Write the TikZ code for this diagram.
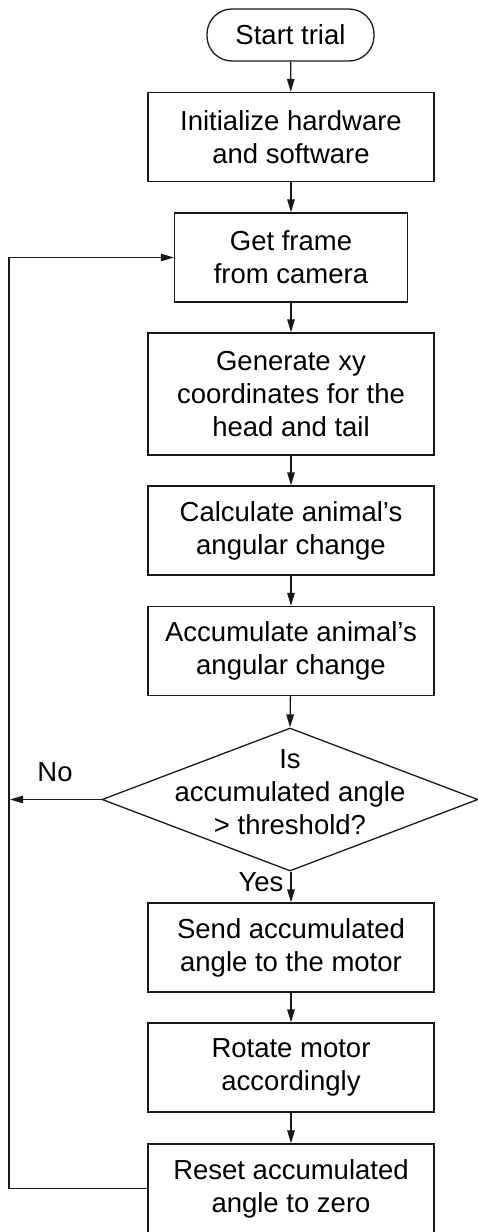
\documentclass[tikz,border=0pt]{standalone}
\usepackage{fontspec}
\setmainfont{Liberation Sans}
\usetikzlibrary{shapes.geometric,arrows.meta}

\begin{document}
\begin{tikzpicture}[x=1pt,y=-1pt,
  every node/.style={font=\fontsize{27.5}{33}\selectfont, text=black},
  proc/.style={draw=black!90, line width=1.3pt, rectangle, align=center,
    minimum width=286pt, minimum height=89pt, inner sep=0pt},
  term/.style={draw=black!90, line width=1.3pt, rectangle, rounded corners=25pt,
    minimum width=167pt, minimum height=52pt, inner sep=0pt},
  decision/.style={draw=black!90, line width=1.3pt, diamond, inner sep=0pt,
    minimum width=376pt, minimum height=143pt},
  flow/.style={draw=black!90, line width=1.3pt, -{Triangle[length=13pt,width=7.5pt]}},
  lbl/.style={inner sep=0pt}
]
\useasboundingbox (0,0) rectangle (478,1232);
\clip (0,0) rectangle (478,1232);

% main column of steps
\node[term] (start) at (290.5,35) {Start trial};
\node[proc] (init) at (291,137) {Initialize hardware\\and software};
\node[proc, minimum width=233pt] (frame) at (291,257.5) {Get frame\\from camera};
\node[proc, minimum height=122pt] (gen) at (291,394) {Generate xy\\coordinates for the\\head and tail};
\node[proc] (calc) at (291,530.5) {Calculate animal’s\\angular change};
\node[proc] (acc) at (291,651) {Accumulate animal’s\\angular change};
\node[decision] (dec) at (290,799.5) {};
\node[lbl, align=center] (dectext) at (290,792.5) {Is\\accumulated angle\\> threshold?};
\node[proc] (send) at (291,947.5) {Send accumulated\\angle to the motor};
\node[proc] (rot) at (291,1067.5) {Rotate motor\\accordingly};
\node[proc] (reset) at (291,1188.5) {Reset accumulated\\angle to zero};

% branch labels
\node[lbl] (no) at (55,772) {No};
\node[lbl] (yes) at (261,882) {Yes};

% return line on the left
\coordinate (lx) at (9,0);

% connectors
\draw[flow] (start) -- (init);
\draw[flow] (init) -- (frame);
\draw[flow] (frame) -- (gen);
\draw[flow] (gen) -- (calc);
\draw[flow] (calc) -- (acc);
\draw[flow] (acc) -- (dec.north);
\draw[flow] (dec.south -| send.north) -- (send);
\draw[flow] (send) -- (rot);
\draw[flow] (rot) -- (reset);
\draw[flow] (dec.west) -- ([xshift=1pt]lx |- dec.west);
\draw[flow] (reset.west) -- (lx |- reset.west) -- (lx |- frame.west) -- (frame.west);
\end{tikzpicture}
\end{document}
